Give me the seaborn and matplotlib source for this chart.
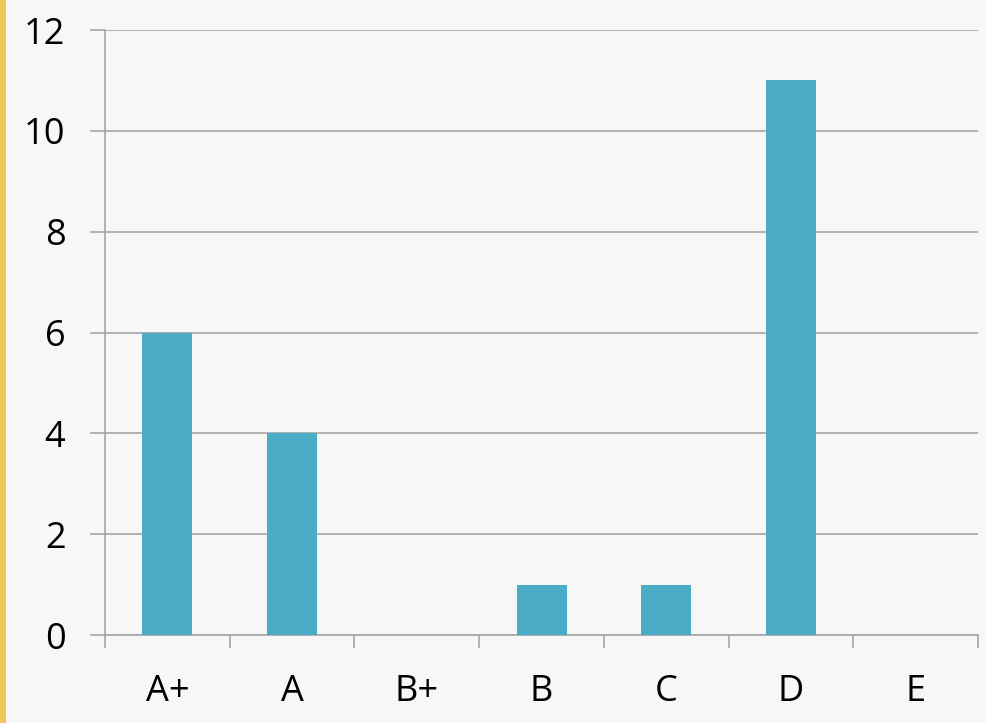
import matplotlib
matplotlib.use("Agg")
import matplotlib.pyplot as plt
import matplotlib.patches as patches
import numpy as np
import pandas as pd
import seaborn as sns

grades = ["A+", "A", "B+", "B", "C", "D", "E"]
counts = [6, 4, 0, 1, 1, 11, 0]
y_ticks = [0, 2, 4, 6, 8, 10, 12]

bg = "#f7f7f7"
bar_color = "#4bacc6"
line_color = "#a6a6a6"

sns.set_style("white")
plt.rcParams["font.family"] = ["Open Sans", "DejaVu Sans"]

df = pd.DataFrame({"grade": grades, "count": counts})

fig = plt.figure(figsize=(9.86, 7.23), dpi=100, facecolor=bg)
ax = fig.add_axes([0.1065, 0.1217, 0.8855, 0.8368])
ax.set_facecolor(bg)

sns.barplot(data=df, x="grade", y="count", color=bar_color, width=0.4,
            saturation=1, linewidth=0, edgecolor="none", ax=ax, zorder=3)

ax.set_ylim(0, 12)
ax.set_xlim(-0.5, len(grades) - 0.5)
ax.set_yticks(y_ticks)
ax.yaxis.grid(True, color=line_color, linewidth=1.2, zorder=0)
ax.set_axisbelow(True)
ax.set_xlabel("")
ax.set_ylabel("")

for side in ["top", "right"]:
    ax.spines[side].set_visible(False)
for side in ["left", "bottom"]:
    ax.spines[side].set_color(line_color)
    ax.spines[side].set_linewidth(1.2)

ax.tick_params(axis="y", left=True, length=10.5, width=1.2, color=line_color,
               pad=18, labelsize=26, labelcolor="black")
ax.tick_params(axis="x", which="major", bottom=True, length=0, pad=28,
               labelsize=26, labelcolor="black")
ax.set_xticks(np.arange(-0.5, len(grades), 1.0), minor=True)
ax.tick_params(axis="x", which="minor", bottom=True, length=9.5, width=1.2,
               color=line_color)

# yellow stripe on the left edge
fig.patches.append(patches.Rectangle((0, 0), 6 / 986, 1, transform=fig.transFigure,
                                     facecolor="#f0c75a", edgecolor="none"))

fig.savefig("out.png", dpi=100, facecolor=bg)
